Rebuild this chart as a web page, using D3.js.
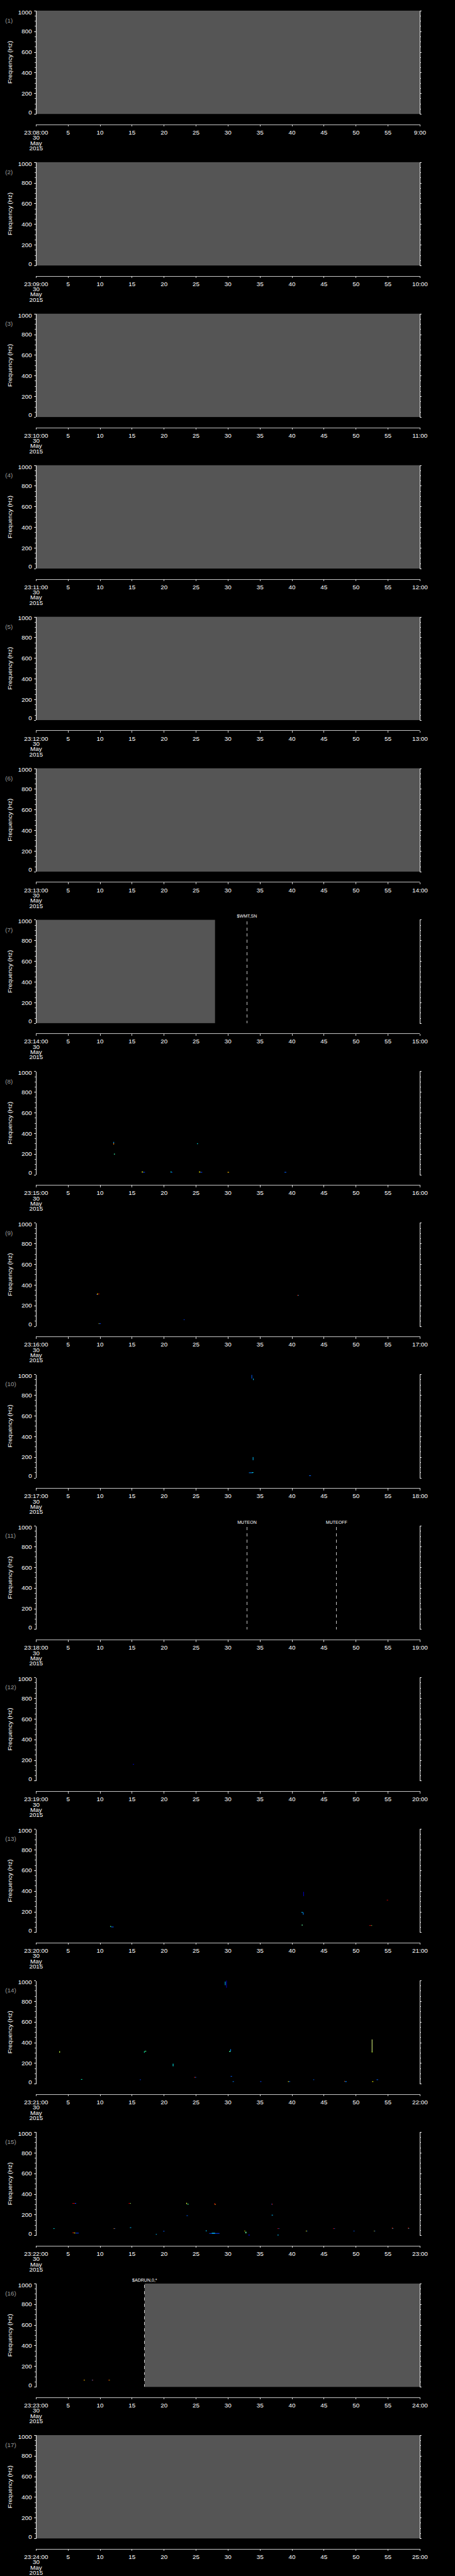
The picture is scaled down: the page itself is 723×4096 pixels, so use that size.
<!DOCTYPE html>
<html>
<head>
<meta charset="utf-8">
<script src="https://cdn.jsdelivr.net/npm/d3@7"></script>
<style>
body { margin: 0; background: #000; }
text { font-family: "Liberation Sans", Arial, sans-serif; }
</style>
</head>
<body>
<div id="mainContainer"></div>
<script>
// minute of each one-minute panel (23:MM:00, 30 May 2015)
var startMinutes = [8, 9, 10, 11, 12, 13, 14, 15, 16, 17, 18, 19, 20, 21, 22, 23, 24];
var dateLines = ["30", "May", "2015"];
var freqMajor = [0, 200, 400, 600, 800, 1000];
var secTicks = [0, 5, 10, 15, 20, 25, 30, 35, 40, 45, 50, 55, 60];

// grey = no data (panel, from s, to s)
var noDataPanel = [1, 2, 3, 4, 5, 6, 7, 16, 17];
var noDataFrom  = [0, 0, 0, 0, 0, 0, 0, 17, 0];
var noDataTo    = [60, 60, 60, 60, 60, 60, 28, 60, 60];

// event markers (dashed lines)
var eventPanel = [7, 11, 11, 16];
var eventSec   = [33, 33, 47, 17];
var eventText  = ["$WMT,SN", "MUTEON", "MUTEOFF", "$ADRUN,0,*"];

// detections: panel, start s, low Hz, duration s, bandwidth Hz, colour
var spots = [
    [8, 12.1, 305, 0.12, 12, "#00a0ff"], [8, 12.1, 292, 0.12, 12, "#ff8000"],
    [8, 12.2, 195, 0.15, 8, "#40ffb0"],
    [8, 16.55, 22, 0.2, 8, "#ffff00"], [8, 16.75, 20, 0.3, 6, "#0040ff"],
    [8, 21.05, 22, 0.15, 8, "#00ffff"], [8, 21.2, 20, 0.15, 6, "#0040ff"],
    [8, 25.5, 22, 0.2, 8, "#ffff00"], [8, 25.7, 20, 0.3, 6, "#0040ff"],
    [8, 25.2, 296, 0.12, 8, "#00ffff"],
    [8, 29.95, 20, 0.25, 6, "#ffc000"],
    [8, 38.85, 20, 0.3, 6, "#0060ff"],

    [9, 9.55, 306, 0.15, 10, "#ffff00"], [9, 9.7, 310, 0.25, 6, "#c00000"], [9, 9.45, 303, 0.1, 6, "#0000ff"],
    [9, 9.8, 22, 0.1, 6, "#ffff00"], [9, 9.9, 22, 0.25, 6, "#0040ff"],
    [9, 23.1, 60, 0.15, 6, "#0040ff"],
    [9, 40.85, 296, 0.15, 6, "#ff2000"], [9, 41.0, 296, 0.1, 6, "#00c0ff"],

    [10, 33.7, 960, 0.08, 35, "#0060ff"], [10, 33.95, 945, 0.1, 15, "#00c0ff"],
    [10, 33.9, 170, 0.08, 30, "#00c0ff"],
    [10, 33.3, 46, 0.6, 5, "#0080ff"], [10, 33.8, 48, 0.2, 5, "#00ffff"],
    [10, 42.7, 18, 0.3, 5, "#0060ff"],

    [12, 15.15, 158, 0.2, 5, "#0000c0"],

    [13, 11.6, 53, 0.15, 8, "#40ff80"], [13, 11.75, 50, 0.4, 5, "#0060ff"],
    [13, 41.8, 350, 0.06, 42, "#0000c0"],
    [13, 41.5, 190, 0.25, 6, "#00c0ff"], [13, 41.75, 170, 0.08, 22, "#0080ff"],
    [13, 41.55, 66, 0.15, 8, "#60ffa0"],
    [13, 54.85, 310, 0.2, 5, "#d00000"],
    [13, 52.1, 64, 0.35, 5, "#c00000"], [13, 52.45, 64, 0.1, 5, "#60ff60"],

    [14, 29.75, 930, 0.06, 70, "#0000c0"], [14, 29.55, 955, 0.08, 35, "#00c0ff"],
    [14, 3.65, 302, 0.12, 14, "#c0ff40"],
    [14, 16.9, 302, 0.1, 12, "#00ffc0"], [14, 17.0, 313, 0.25, 6, "#40ff90"],
    [14, 21.4, 170, 0.08, 25, "#00ffff"],
    [14, 30.2, 310, 0.25, 8, "#40ffa0"], [14, 30.4, 316, 0.08, 20, "#0080ff"],
    [14, 52.5, 308, 0.04, 122, "#e0ff80"], [14, 52.5, 304, 0.12, 8, "#c0ff20"],
    [14, 7.05, 41, 0.2, 5, "#00ffc0"],
    [14, 16.25, 38, 0.15, 5, "#0040ff"],
    [14, 24.75, 61, 0.15, 5, "#ff2000"], [14, 24.9, 61, 0.15, 5, "#0060ff"],
    [14, 30.45, 71, 0.2, 5, "#0060ff"],
    [14, 30.75, 20, 0.2, 5, "#0080ff"],
    [14, 35.05, 20, 0.2, 5, "#0040ff"],
    [14, 39.4, 20, 0.15, 5, "#ffff00"], [14, 39.55, 20, 0.2, 5, "#0060ff"],
    [14, 43.35, 38, 0.15, 5, "#0060ff"],
    [14, 48.2, 23, 0.1, 5, "#ff6000"], [14, 48.3, 20, 0.3, 5, "#0080ff"],
    [14, 52.55, 20, 0.2, 5, "#ffff00"],
    [14, 53.25, 38, 0.25, 5, "#0060ff"],

    [15, 5.7, 308, 0.4, 5, "#c00000"], [15, 6.1, 308, 0.2, 5, "#0040ff"],
    [15, 14.5, 308, 0.25, 5, "#c00000"], [15, 14.75, 308, 0.1, 5, "#60ff60"],
    [15, 23.5, 303, 0.12, 12, "#e0ff40"], [15, 23.7, 298, 0.15, 8, "#40ffa0"],
    [15, 27.9, 298, 0.12, 12, "#ff2000"], [15, 28.0, 296, 0.12, 6, "#ffa000"],
    [15, 36.8, 300, 0.15, 5, "#0040ff"], [15, 36.9, 298, 0.05, 8, "#ff2000"],
    [15, 23.55, 188, 0.2, 6, "#0060ff"],
    [15, 36.85, 193, 0.2, 6, "#00c0ff"],
    [15, 2.75, 64, 0.15, 5, "#00ffff"],
    [15, 5.7, 24, 0.3, 5, "#c00000"], [15, 5.95, 20, 0.2, 6, "#ffff00"], [15, 6.2, 20, 0.5, 5, "#0040ff"],
    [15, 12.15, 64, 0.12, 5, "#ff8000"], [15, 12.3, 64, 0.1, 5, "#0060ff"],
    [15, 14.7, 73, 0.2, 5, "#00c0ff"],
    [15, 18.75, 8, 0.15, 5, "#00c0ff"],
    [15, 19.9, 38, 0.2, 5, "#0060ff"],
    [15, 26.55, 40, 0.15, 8, "#00c0ff"],
    [15, 27.1, 18, 1.6, 4, "#0040ff"], [15, 27.5, 20, 0.5, 4, "#00ffff"],
    [15, 32.6, 38, 0.08, 8, "#ffff00"], [15, 32.75, 20, 0.15, 15, "#60ffa0"],
    [15, 33.2, 1, 0.25, 5, "#0000ff"],
    [15, 37.75, 64, 0.2, 5, "#c00000"], [15, 37.95, 64, 0.1, 5, "#0060ff"],
    [15, 37.75, 1, 0.2, 5, "#00c0ff"],
    [15, 42.2, 40, 0.15, 5, "#ffff00"], [15, 42.35, 40, 0.1, 5, "#0060ff"],
    [15, 46.45, 64, 0.2, 5, "#c00000"], [15, 46.65, 64, 0.1, 5, "#0060ff"],
    [15, 49.65, 40, 0.15, 5, "#0060ff"],
    [15, 52.85, 40, 0.1, 5, "#ffff00"], [15, 52.95, 40, 0.1, 5, "#0060ff"],
    [15, 55.65, 66, 0.15, 8, "#ff2000"], [15, 55.75, 64, 0.1, 5, "#00c0ff"],
    [15, 58.15, 66, 0.15, 8, "#ff2000"], [15, 58.25, 64, 0.1, 5, "#00c0ff"],

    [16, 7.45, 64, 0.1, 5, "#ff6000"], [16, 7.55, 64, 0.1, 5, "#ffff00"],
    [16, 8.75, 64, 0.1, 5, "#0060ff"], [16, 8.85, 64, 0.1, 5, "#ff4000"],
    [16, 11.3, 64, 0.15, 5, "#c00000"], [16, 11.45, 64, 0.1, 5, "#ffff00"]
];

var W = 1024, H = 5802,
    panelH = H / startMinutes.length,
    plotLeft = 80.7, plotRight = 944.7,
    plotTop = 24, plotBottom = 256.7,
    axisY = 280.3;

var svg = d3.select('#mainContainer').append('svg')
    .attr('width', 723)
    .attr('height', 4096)
    .attr('viewBox', '0 0 ' + W + ' ' + H)
    .style('display', 'block')
    .style('background', '#000');

var x = d3.scaleLinear().domain([0, 60]).range([plotLeft, plotRight]);
var y = d3.scaleLinear().domain([0, 1000]).range([plotBottom, plotTop]);
var freqMinor = d3.range(0, 1001, 50);

startMinutes.forEach(function(m, i) {
    var p = i + 1;
    var g = svg.append('g').attr('transform', 'translate(0,' + (i * panelH) + ')');

    // no-data grey
    noDataPanel.forEach(function(np, k) {
        if (np != p) return;
        g.append('rect')
            .attr('x', x(noDataFrom[k]))
            .attr('y', y(1000))
            .attr('width', x(noDataTo[k]) - x(noDataFrom[k]))
            .attr('height', y(0) - y(1000))
            .attr('fill', '#555555');
    });

    // detections
    g.append('g').selectAll('rect')
        .data(spots.filter(function(d) { return d[0] == p; }))
        .enter().append('rect')
        .attr('x', function(d) { return x(d[1]); })
        .attr('y', function(d) { return y(d[2] + d[4]); })
        .attr('width', function(d) { return Math.max(x(d[1] + d[3]) - x(d[1]), 1.4); })
        .attr('height', function(d) { return Math.max(y(d[2]) - y(d[2] + d[4]), 1.4); })
        .attr('fill', function(d) { return d[5]; });

    // event lines
    eventPanel.forEach(function(ep, k) {
        if (ep != p) return;
        g.append('line')
            .attr('x1', x(eventSec[k])).attr('x2', x(eventSec[k]))
            .attr('y1', y(1000) + 3).attr('y2', y(0))
            .attr('stroke', '#fff').attr('stroke-width', 1.1)
            .attr('stroke-dasharray', '7,7')
            .attr('shape-rendering', 'crispEdges');
        g.append('text')
            .attr('x', x(eventSec[k]))
            .attr('y', y(1000) - 5)
            .attr('text-anchor', 'middle')
            .attr('fill', '#fff')
            .attr('font-size', '10px')
            .text(eventText[k]);
    });

    // left axis
    var la = g.append('g')
        .attr('transform', 'translate(' + plotLeft + ',0)')
        .call(d3.axisLeft(y).tickValues(freqMajor).tickSize(4).tickSizeOuter(0).tickPadding(5)
            .tickFormat(d3.format('d')));
    la.append('g').call(d3.axisLeft(y).tickValues(freqMinor).tickSize(3).tickSizeOuter(0).tickFormat(''));
    la.selectAll('text')
        .attr('font-size', '14px')
        .attr('fill', '#fff')
        .attr('dy', function(d) { return d == 1000 ? '0.55em' : d == 0 ? '0' : '0.32em'; });

    // right axis
    var ra = g.append('g')
        .attr('transform', 'translate(' + plotRight + ',0)')
        .call(d3.axisRight(y).tickValues(freqMajor).tickSize(4).tickSizeOuter(0).tickFormat(''));
    ra.append('g').call(d3.axisRight(y).tickValues(freqMinor).tickSize(2.5).tickSizeOuter(0).tickFormat(''));

    // time axis
    var xa = g.append('g')
        .attr('transform', 'translate(0,' + axisY + ')')
        .call(d3.axisBottom(x).tickValues(secTicks).tickSize(4.7).tickSizeOuter(0).tickPadding(8)
            .tickFormat(function(d) {
                if (d == 0) return '23:' + d3.format('02')(m) + ':00';
                if (d == 60) return (m + 1) + ':00';
                return d;
            }));
    xa.selectAll('text').attr('font-size', '14px').attr('fill', '#fff');
    xa.selectAll('.tick').filter(function(d) { return d == 0; }).select('text')
        .each(function() {
            var t = d3.select(this);
            dateLines.forEach(function(s) {
                t.append('tspan').attr('x', 0).attr('dy', '11.8').text(s);
            });
        });

    g.selectAll('.domain, .tick line')
        .attr('stroke', '#fff')
        .attr('stroke-width', 1.1)
        .attr('shape-rendering', 'crispEdges');

    // y label and panel number
    g.append('text')
        .attr('transform', 'translate(26.7,' + ((plotTop + plotBottom) / 2) + ') rotate(-90)')
        .attr('text-anchor', 'middle')
        .attr('fill', '#fff')
        .attr('font-size', '14px')
        .text('Frequency (Hz)');
    g.append('text')
        .attr('x', 11.7)
        .attr('y', 51)
        .attr('fill', '#9a9a9a')
        .attr('font-size', '14px')
        .text('(' + p + ')');
});
</script>
</body>
</html>
